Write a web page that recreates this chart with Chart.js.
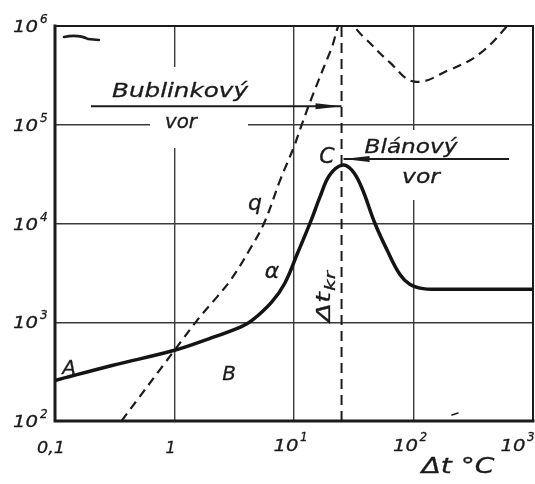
<!DOCTYPE html>
<html><head><meta charset="utf-8">
<script src="https://cdn.jsdelivr.net/npm/chart.js@4/dist/chart.umd.min.js"></script>
<style>html,body{margin:0;padding:0;background:#fff}</style>
</head><body>
<canvas id="c" width="535" height="484"></canvas>
<script>
// ---- data ----
const xTickValues = [0.1, 1, 10, 100, 1000];
const xTickLabels = [["0,1",""],["1",""],["10","1"],["10","2"],["10","3"]];
const yTickValues = [1e2, 1e3, 1e4, 1e5, 1e6];
const yTickLabels = [["10","2"],["10","3"],["10","4"],["10","5"],["10","6"]];

// heat transfer coefficient curve (solid, A-B-α-C)
const alphaX = [0.1, 0.3, 1, 1.94, 3.6, 4.4, 6.5, 8.4, 10.7, 13.8, 16.5, 19.9, 25.3, 30.5, 36.7, 47.6, 60.5, 77, 93, 120, 160, 1000];
const alphaY = [257, 365, 520, 680, 900, 1030, 1600, 2500, 5000, 10500, 18600, 31000, 39000, 34700, 23400, 10000, 5300, 3050, 2430, 2190, 2160, 2160];

// heat flux curve q (dashed)
const qX = [0.36, 1, 1.6, 2.3, 3.0, 4.2, 5.6, 7.7, 10, 11.6, 14, 20.4, 26, 38, 63, 102, 200, 363, 700];
const qY = [100, 520, 1100, 1840, 2750, 5300, 10000, 28000, 60000, 100000, 185000, 575000, 1150000, 780000, 430000, 273000, 360000, 530000, 1200000];

// critical temperature difference Δt_kr (vertical dashed)
const critX = [25, 25];
const critY = [100, 1e6];

const INK = '#1b1b1b';
const FONT = '"DejaVu Sans", "Liberation Sans", sans-serif';

function txt(ctx, s, x, y, size, o = {}) {
  ctx.save();
  ctx.font = `italic ${size}px ${FONT}`;
  ctx.fillStyle = INK;
  ctx.strokeStyle = INK;
  ctx.lineWidth = 0.3;
  ctx.lineJoin = 'round';
  ctx.textBaseline = 'alphabetic';
  const w = ctx.measureText(s).width;
  const sx = o.width ? o.width / w : 1;
  ctx.translate(x, y);
  if (o.rot) ctx.rotate(o.rot);
  ctx.scale(sx, 1);
  const al = o.align || 'center';
  const off = al === 'center' ? -w / 2 : (al === 'right' ? -w : 0);
  ctx.fillText(s, off, 0);
  ctx.strokeText(s, off, 0);
  ctx.restore();
}

function arrowLine(ctx, x1, x2, y, dir) {
  ctx.save();
  ctx.strokeStyle = INK; ctx.fillStyle = INK; ctx.lineWidth = 2;
  ctx.beginPath(); ctx.moveTo(x1, y); ctx.lineTo(x2, y); ctx.stroke();
  const tip = dir > 0 ? Math.max(x1, x2) : Math.min(x1, x2);
  ctx.beginPath();
  ctx.moveTo(tip, y);
  ctx.lineTo(tip - dir * 26, y - 3);
  ctx.lineTo(tip - dir * 26, y + 3);
  ctx.closePath(); ctx.fill();
  ctx.restore();
}

const deco = {
  id: 'deco',
  beforeDatasetsDraw(chart) {
    const ctx = chart.ctx, xs = chart.scales.x, ys = chart.scales.y;
    ctx.save();
    ctx.fillStyle = '#fff';
    // gridline gaps around the lettering
    ctx.fillRect(xs.getPixelForValue(1) - 4, 67, 8, 81);
    ctx.fillRect(150, ys.getPixelForValue(1e5) - 4, 98, 8);
    ctx.fillRect(xs.getPixelForValue(100) - 4, 130, 8, 70);
    ctx.restore();
  },
  afterDatasetsDraw(chart) {
    const ctx = chart.ctx, a = chart.chartArea, xs = chart.scales.x, ys = chart.scales.y;
    ctx.save();
    ctx.strokeStyle = INK;
    ctx.lineCap = 'square';
    // frame
    ctx.lineWidth = 3;
    ctx.beginPath(); ctx.moveTo(a.left, a.top); ctx.lineTo(a.left, a.bottom); ctx.lineTo(a.right, a.bottom); ctx.stroke();
    ctx.lineWidth = 2;
    ctx.beginPath(); ctx.moveTo(a.left, a.top); ctx.lineTo(a.right, a.top); ctx.lineTo(a.right, a.bottom); ctx.stroke();
    // small scan marks
    ctx.lineWidth = 2.5; ctx.lineCap = 'round';
    ctx.beginPath(); ctx.moveTo(64, 37); ctx.quadraticCurveTo(78, 34, 88, 39); ctx.lineTo(99, 40); ctx.stroke();
    ctx.lineWidth = 1.5;
    ctx.beginPath(); ctx.moveTo(452, 415); ctx.lineTo(458, 413); ctx.stroke();
    ctx.restore();

    // arrows toward Δt_kr
    const xc = xs.getPixelForValue(critX[0]);
    arrowLine(ctx, xs.getPixelForValue(0.2), xc, ys.getPixelForValue(1.54e5), 1);
    arrowLine(ctx, xs.getPixelForValue(630), xc + 2, ys.getPixelForValue(45000), -1);

    // lettering
    txt(ctx, 'Bublinkový', 180, 97, 19, { width: 136 });
    txt(ctx, 'vor', 181, 128, 19, { width: 32 });
    txt(ctx, 'Blánový', 411, 153, 19, { width: 93 });
    txt(ctx, 'vor', 421, 183, 19, { width: 38 });
    txt(ctx, 'C', 327, 163, 22);
    txt(ctx, 'q', 255, 210, 22);
    txt(ctx, 'α', 272, 278, 22);
    txt(ctx, 'A', 69, 374, 20);
    txt(ctx, 'B', 229, 380, 20);
    // rotated Δt_kr
    txt(ctx, 'Δt', 330, 322, 20, { rot: -Math.PI / 2, align: 'left', width: 30 });
    txt(ctx, 'kr', 335, 291, 14, { rot: -Math.PI / 2, align: 'left', width: 20 });

    // y tick labels
    yTickValues.forEach((v, i) => {
      const py = ys.getPixelForValue(v);
      const [b, e] = yTickLabels[i];
      txt(ctx, b, 38, py + 6, 16, { align: 'right', width: 25 });
      txt(ctx, e, 40, py - 3, 12, { align: 'left' });
    });
    // x tick labels
    xTickValues.forEach((v, i) => {
      const px = Math.min(517, Math.max(49, xs.getPixelForValue(v) - 4));
      const [b, e] = xTickLabels[i];
      if (!e) {
        txt(ctx, b, px, 453, 16, b.length > 1 ? { width: 28 } : {});
      } else {
        txt(ctx, b, px - 4, 451, 16, { width: 25 });
        txt(ctx, e, px + 10, 441, 12, { align: 'left' });
      }
    });
    // axis title
    txt(ctx, 'Δt °C', 458, 473, 21, { width: 73 });
  }
};

const pts = (xa, ya) => xa.map((x, i) => ({ x, y: ya[i] }));

new Chart(document.getElementById('c'), {
  type: 'line',
  data: {
    datasets: [
      { label: 'α', data: pts(alphaX, alphaY), borderColor: '#141414', borderWidth: 3.5,
        pointRadius: 0, tension: 0.4, clip: 0, fill: false },
      { label: 'q', data: pts(qX, qY), borderColor: '#1c1c1c', borderWidth: 2.2, borderDash: [9, 6],
        pointRadius: 0, tension: 0.4, clip: 0, fill: false },
      { label: 'Δt kr', data: pts(critX, critY), borderColor: '#1c1c1c', borderWidth: 2, borderDash: [10, 6],
        pointRadius: 0, clip: 0, fill: false }
    ]
  },
  options: {
    responsive: false, animation: false, devicePixelRatio: 1,
    layout: { padding: { left: 55, top: 26, right: 2, bottom: 63 } },
    plugins: { legend: { display: false }, tooltip: { enabled: false } },
    scales: {
      x: { type: 'logarithmic', min: 0.1, max: 1000,
        ticks: { display: false }, grid: { color: '#3a3a3a', lineWidth: 1.4, drawTicks: false },
        border: { display: false },
        afterBuildTicks: s => { s.ticks = xTickValues.map(v => ({ value: v })); },
        afterFit: s => { s.height = 0; } },
      y: { type: 'logarithmic', min: 100, max: 1e6,
        ticks: { display: false }, grid: { color: '#3a3a3a', lineWidth: 1.4, drawTicks: false },
        border: { display: false },
        afterBuildTicks: s => { s.ticks = yTickValues.map(v => ({ value: v })); },
        afterFit: s => { s.width = 0; } }
    }
  },
  plugins: [deco]
});
</script>
</body></html>
